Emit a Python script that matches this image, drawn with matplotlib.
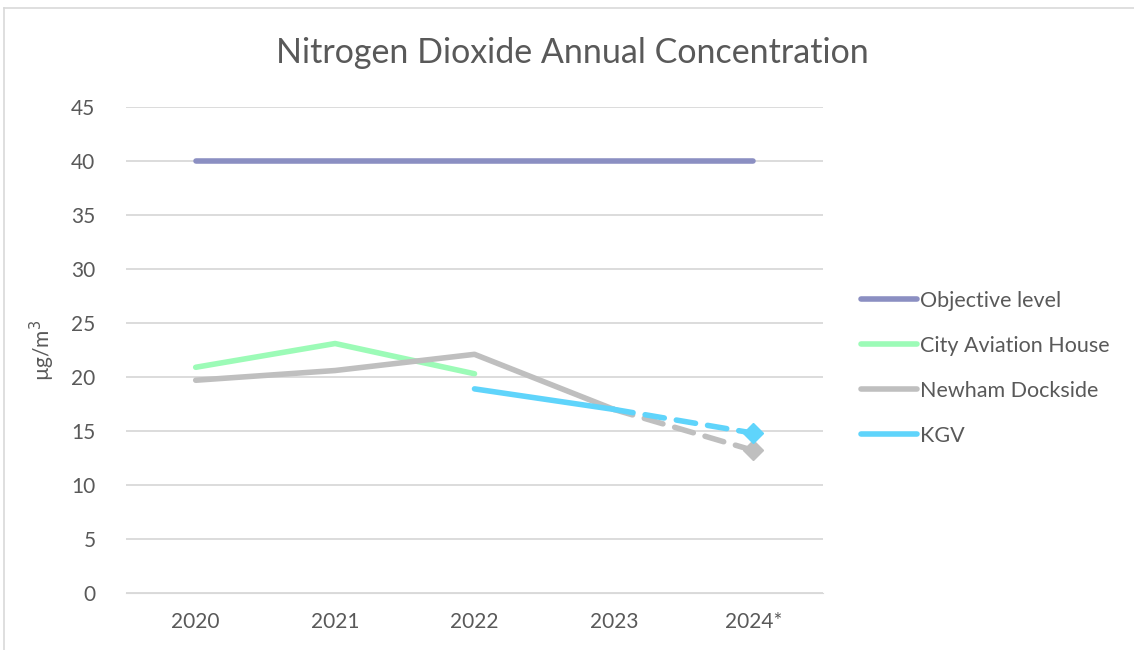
import matplotlib.pyplot as plt
from matplotlib.lines import Line2D

plt.rcParams['font.family'] = ['Lato', 'DejaVu Sans']

years = ['2020', '2021', '2022', '2023', '2024*']
objective = [40, 40, 40, 40, 40]
city_aviation = [20.9, 23.1, 20.3]
newham = [19.7, 20.6, 22.1, 17.0]
newham_2024 = 13.2
kgv = [18.9, 17.0]
kgv_2024 = 14.8

c_obj = '#8b8fc2'
c_city = '#9cfbb7'
c_new = '#bfbfbf'
c_kgv = '#5fd4fb'
txt = '#595959'

fig = plt.figure(figsize=(11.34, 6.5), dpi=100)
ax = fig.add_axes([126 / 1134, 57 / 650, (823 - 126) / 1134, (593 - 107) / 650])

x = list(range(len(years)))
lw = 4

ax.plot(x, objective, color=c_obj, lw=lw, solid_capstyle='round')
ax.plot(x[:3], city_aviation, color=c_city, lw=lw, solid_capstyle='round', solid_joinstyle='round')
ax.plot(x[:4], newham, color=c_new, lw=lw, solid_capstyle='round', solid_joinstyle='round')
ax.plot(x[3:5], [newham[-1], newham_2024], color=c_new, lw=lw, ls=(0, (3.5, 2.2)), dash_capstyle='round')
ax.plot(x[4], newham_2024, marker='D', color=c_new, ms=10)
ax.plot(x[2:4], kgv, color=c_kgv, lw=lw, solid_capstyle='round')
ax.plot(x[3:5], [kgv[-1], kgv_2024], color=c_kgv, lw=lw, ls=(0, (3.5, 2.2)), dash_capstyle='round')
ax.plot(x[4], kgv_2024, marker='D', color=c_kgv, ms=10)

ax.set_xlim(-0.5, 4.5)
ax.set_ylim(0, 45)
ax.set_yticks(range(0, 50, 5))
ax.set_xticks(x)
ax.set_xticklabels(years)
ax.grid(axis='y', color='#d9d9d9', lw=1.3)
ax.set_axisbelow(True)
for s in ax.spines.values():
    s.set_visible(False)
ax.spines['bottom'].set_visible(True)
ax.spines['bottom'].set_color('#d9d9d9')
ax.tick_params(length=0, labelsize=15, colors=txt, pad=14)
ax.tick_params(axis='y', pad=22)
ax.set_ylabel('µg/m$^3$', fontsize=15, color=txt, labelpad=10)

fig.text(572 / 1134, 1 - 53 / 650, 'Nitrogen Dioxide Annual Concentration',
         ha='center', va='center', fontsize=24.5, color=txt)

handles = [Line2D([], [], color=c, lw=lw, solid_capstyle='round') for c in [c_obj, c_city, c_new, c_kgv]]
labels = ['Objective level', 'City Aviation House', 'Newham Dockside', 'KGV']
fig.legend(handles, labels, loc='upper left', bbox_to_anchor=(852 / 1134, 1 - 282 / 650),
           frameon=False, fontsize=15.5, labelcolor=txt, handlelength=2.6, handletextpad=0.15,
           labelspacing=1.16, borderaxespad=0)

fig.add_artist(Line2D([4 / 1134, 4 / 1134], [0, 1 - 8 / 650], color='#d9d9d9', lw=1.2))
fig.add_artist(Line2D([4 / 1134, 1], [1 - 8 / 650, 1 - 8 / 650], color='#d9d9d9', lw=1.2))

fig.savefig('out.png', dpi=100, facecolor='white')
